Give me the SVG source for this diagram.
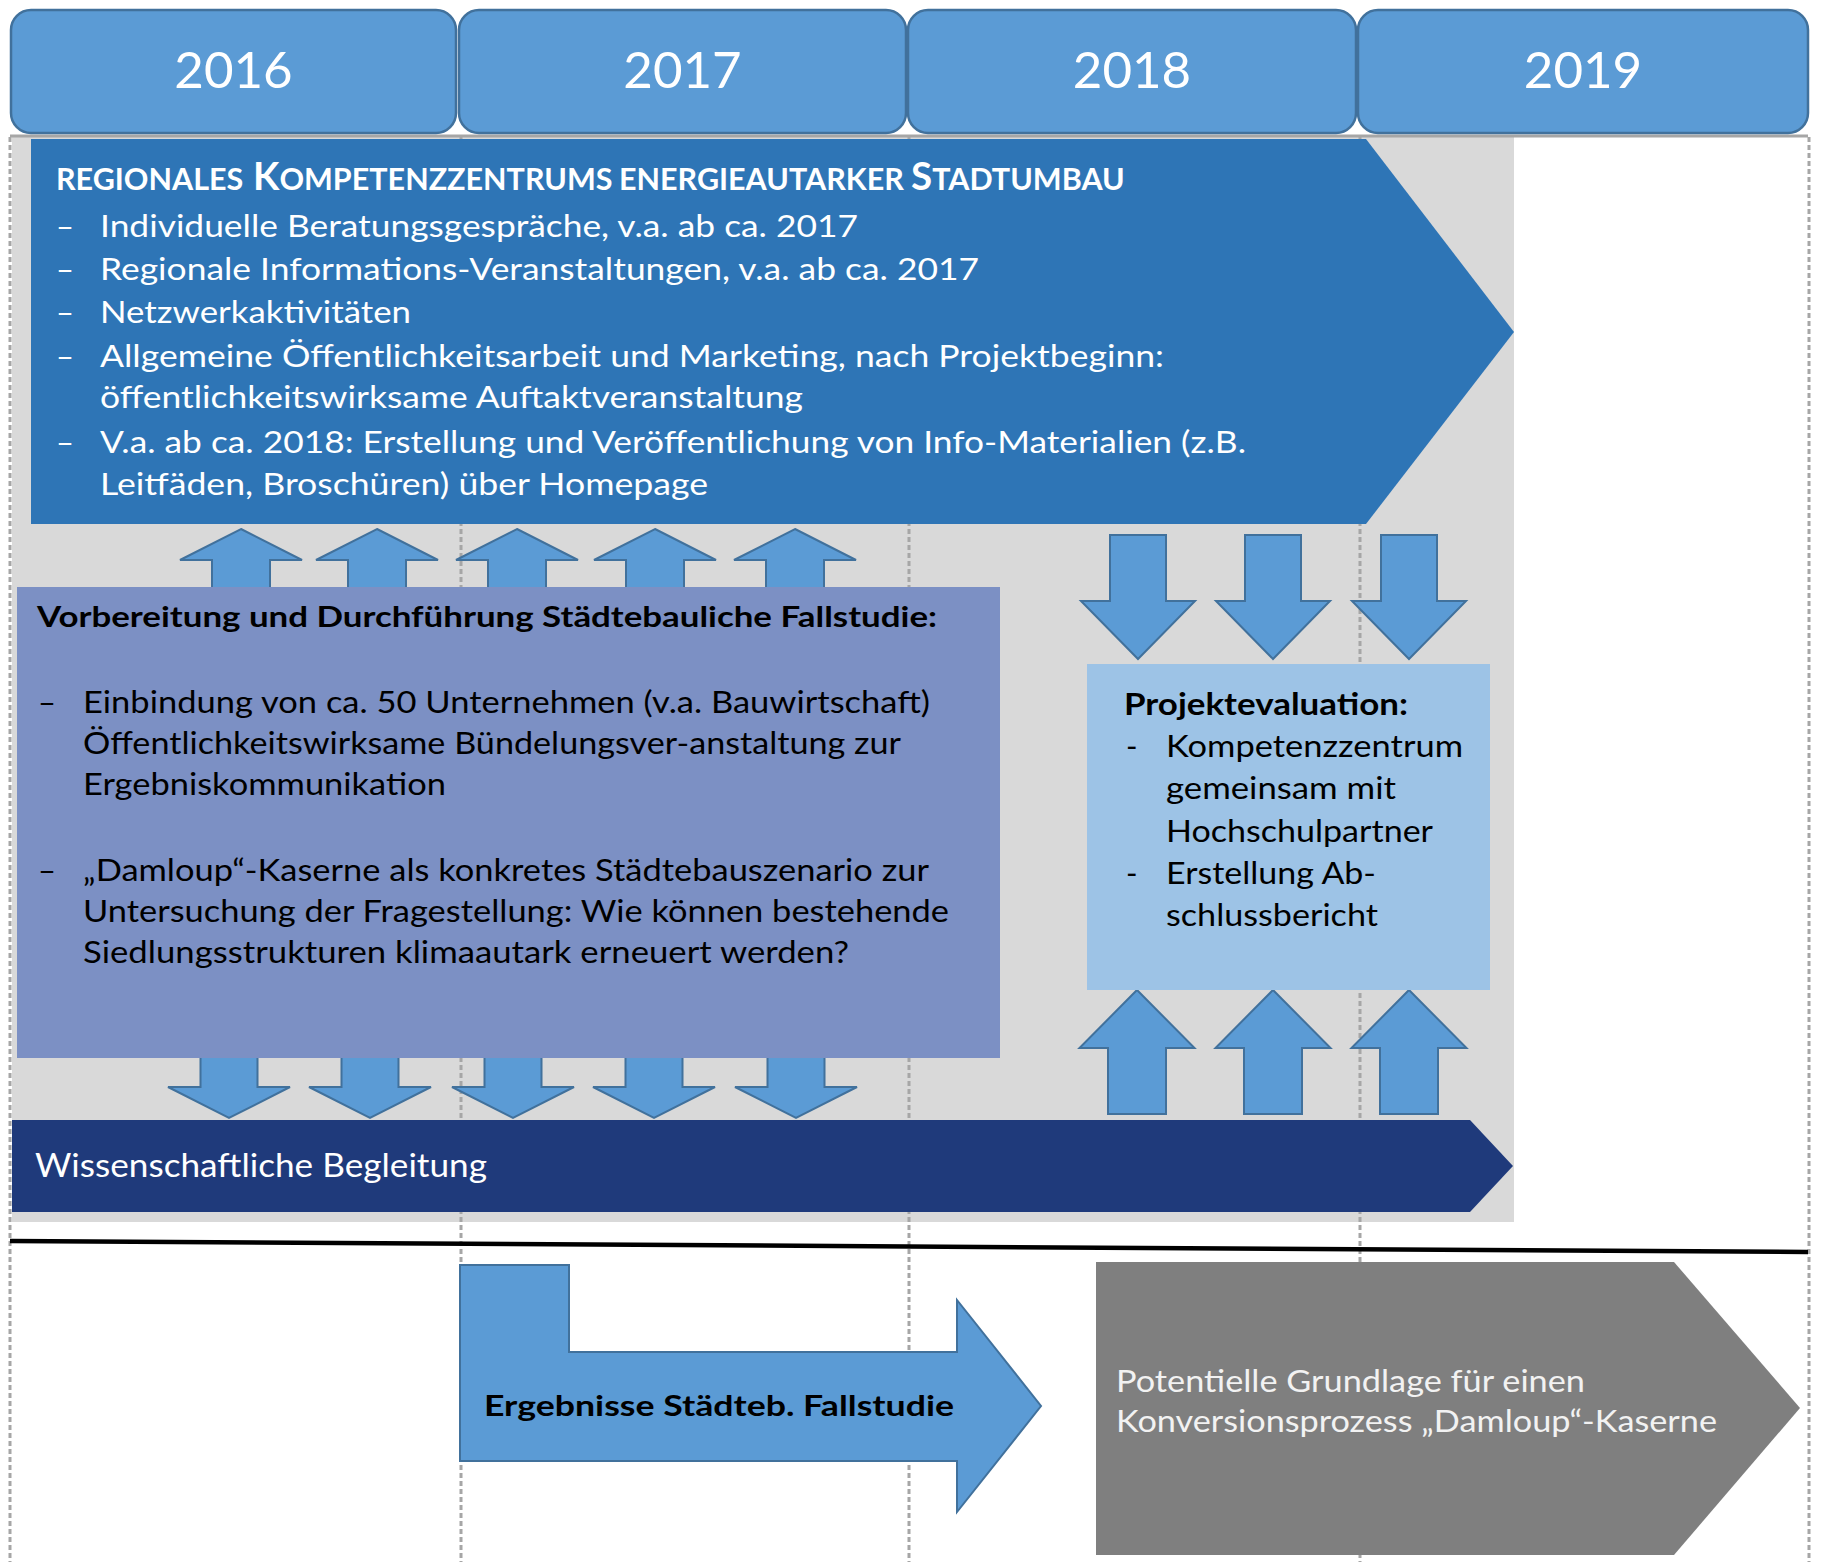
<svg xmlns="http://www.w3.org/2000/svg" width="1821" height="1562" viewBox="0 0 1821 1562">
<style>
  text { font-family: Lato, "Open Sans", "Liberation Sans", sans-serif; }
  .year { fill: #5b9bd5; stroke: #41719c; stroke-width: 2.5; }
  .ytxt { fill: #ffffff; font-size: 51px; text-anchor: middle; }
  .dash { stroke: #a6a6a6; stroke-width: 3; stroke-dasharray: 5 3; fill: none; }
  .arr { fill: #5b9bd5; stroke: #41719c; stroke-width: 2; stroke-linejoin: miter; }
  .w31 { fill: #ffffff; font-size: 31px; }
  .k31 { fill: #000000; font-size: 31px; }
  .kb { fill: #000000; font-weight: bold; }
</style>
<rect x="0" y="0" width="1821" height="1562" fill="#ffffff"/>

<g id="background">
  <rect x="12" y="137" width="1502" height="1085" fill="#d9d9d9"/>
  <line x1="10" y1="136" x2="1808" y2="136" stroke="#a6a6a6" stroke-width="3"/>
  <line class="dash" x1="10" y1="137" x2="10" y2="1562"/>
  <line class="dash" x1="461" y1="137" x2="461" y2="1562"/>
  <line class="dash" x1="909" y1="137" x2="909" y2="1562"/>
  <line class="dash" x1="1360" y1="137" x2="1360" y2="1562"/>
  <line class="dash" x1="1809" y1="137" x2="1809" y2="1562"/>
  <line x1="10" y1="1241" x2="1808" y2="1252" stroke="#000000" stroke-width="4.5"/>
</g>

<g id="year-2016">
  <rect class="year" x="11" y="10" width="445" height="123" rx="20"/>
  <text class="ytxt" x="233.5" y="88">2016</text>
</g>
<g id="year-2017">
  <rect class="year" x="459" y="10" width="447" height="123" rx="20"/>
  <text class="ytxt" x="682.5" y="88">2017</text>
</g>
<g id="year-2018">
  <rect class="year" x="908" y="10" width="448" height="123" rx="20"/>
  <text class="ytxt" x="1132" y="88">2018</text>
</g>
<g id="year-2019">
  <rect class="year" x="1358" y="10" width="450" height="123" rx="20"/>
  <text class="ytxt" x="1583" y="88">2019</text>
</g>

<g id="connectors">
  <polygon class="arr" points="241,529 302,560 270,560 270,590 212,590 212,560 180,560"/>
  <polygon class="arr" points="377,529 438,560 406,560 406,590 348,590 348,560 316,560"/>
  <polygon class="arr" points="517,529 578,560 546,560 546,590 488,590 488,560 456,560"/>
  <polygon class="arr" points="655,529 716,560 684,560 684,590 626,590 626,560 594,560"/>
  <polygon class="arr" points="795,529 856,560 824,560 824,590 766,590 766,560 734,560"/>

  <polygon class="arr" points="200.5,1056 257.5,1056 257.5,1087 290,1087 229,1118 168,1087 200.5,1087"/>
  <polygon class="arr" points="341.5,1056 398.5,1056 398.5,1087 431,1087 370,1118 309,1087 341.5,1087"/>
  <polygon class="arr" points="484.5,1056 541.5,1056 541.5,1087 574,1087 513,1118 452,1087 484.5,1087"/>
  <polygon class="arr" points="625.5,1056 682.5,1056 682.5,1087 715,1087 654,1118 593,1087 625.5,1087"/>
  <polygon class="arr" points="767.5,1056 824.5,1056 824.5,1087 857,1087 796,1118 735,1087 767.5,1087"/>

  <polygon class="arr" points="1110,535 1166,535 1166,601 1195,601 1138,659 1081,601 1110,601"/>
  <polygon class="arr" points="1245,535 1301,535 1301,601 1330,601 1273,659 1216,601 1245,601"/>
  <polygon class="arr" points="1381,535 1437,535 1437,601 1466,601 1409,659 1352,601 1381,601"/>

  <polygon class="arr" points="1137,990 1194.5,1048 1166,1048 1166,1114 1108,1114 1108,1048 1079.5,1048"/>
  <polygon class="arr" points="1273,990 1330.5,1048 1302,1048 1302,1114 1244,1114 1244,1048 1215.5,1048"/>
  <polygon class="arr" points="1409,990 1466.5,1048 1438,1048 1438,1114 1380,1114 1380,1048 1351.5,1048"/>
</g>

<g id="kompetenzzentrum">
  <polygon points="31,139 1366,139 1514,332 1366,524 31,524" fill="#2e75b6"/>
  <text fill="#ffffff" font-weight="bold" y="190">
    <tspan x="56" font-size="30.5">REGIONALES</tspan>
    <tspan x="253" font-size="38.5">K</tspan><tspan font-size="30.5">OMPETENZZENTRUMS</tspan>
    <tspan x="619" font-size="30.5">ENERGIEAUTARKER</tspan>
    <tspan x="911" font-size="38.5">S</tspan><tspan font-size="30.5">TADTUMBAU</tspan>
  </text>
  <text class="w31" x="56" y="237">–</text>
  <text class="w31" x="56" y="280">–</text>
  <text class="w31" x="56" y="323">–</text>
  <text class="w31" x="56" y="367">–</text>
  <text class="w31" x="56" y="453">–</text>
  <text class="w31" x="100" y="237" textLength="758" lengthAdjust="spacingAndGlyphs">Individuelle Beratungsgespräche, v.a. ab ca. 2017</text>
  <text class="w31" x="100" y="280" textLength="879" lengthAdjust="spacingAndGlyphs">Regionale Informations-Veranstaltungen, v.a. ab ca. 2017</text>
  <text class="w31" x="100" y="323" textLength="311" lengthAdjust="spacingAndGlyphs">Netzwerkaktivitäten</text>
  <text class="w31" x="100" y="367" textLength="1064" lengthAdjust="spacingAndGlyphs">Allgemeine Öffentlichkeitsarbeit und Marketing, nach Projektbeginn:</text>
  <text class="w31" x="100" y="408" textLength="703" lengthAdjust="spacingAndGlyphs">öffentlichkeitswirksame Auftaktveranstaltung</text>
  <text class="w31" x="100" y="453" textLength="1146" lengthAdjust="spacingAndGlyphs">V.a. ab ca. 2018: Erstellung und Veröffentlichung von Info-Materialien (z.B.</text>
  <text class="w31" x="100" y="495" textLength="608" lengthAdjust="spacingAndGlyphs">Leitfäden, Broschüren) über Homepage</text>
</g>

<g id="fallstudie">
  <rect x="17" y="587" width="983" height="471" fill="#7c90c4"/>
  <text class="kb" x="37" y="627" font-size="28" textLength="900" lengthAdjust="spacingAndGlyphs">Vorbereitung und Durchführung Städtebauliche Fallstudie:</text>
  <text class="k31" x="38" y="713">–</text>
  <text class="k31" x="38" y="881">–</text>
  <text class="k31" x="83" y="713" textLength="847" lengthAdjust="spacingAndGlyphs">Einbindung von ca. 50 Unternehmen (v.a. Bauwirtschaft)</text>
  <text class="k31" x="83" y="754" textLength="818" lengthAdjust="spacingAndGlyphs">Öffentlichkeitswirksame Bündelungsver-anstaltung zur</text>
  <text class="k31" x="83" y="795" textLength="363" lengthAdjust="spacingAndGlyphs">Ergebniskommunikation</text>
  <text class="k31" x="83" y="881" textLength="846" lengthAdjust="spacingAndGlyphs">„Damloup“-Kaserne als konkretes Städtebauszenario zur</text>
  <text class="k31" x="83" y="922" textLength="866" lengthAdjust="spacingAndGlyphs">Untersuchung der Fragestellung: Wie können bestehende</text>
  <text class="k31" x="83" y="963" textLength="766" lengthAdjust="spacingAndGlyphs">Siedlungsstrukturen klimaautark erneuert werden?</text>
</g>

<g id="projektevaluation">
  <rect x="1087" y="664" width="403" height="326" fill="#9dc3e6"/>
  <text class="kb" x="1124" y="715" font-size="30" textLength="284" lengthAdjust="spacingAndGlyphs">Projektevaluation:</text>
  <text class="k31" x="1126" y="757">-</text>
  <text class="k31" x="1126" y="884">-</text>
  <text class="k31" x="1166" y="757" textLength="297" lengthAdjust="spacingAndGlyphs">Kompetenzzentrum</text>
  <text class="k31" x="1166" y="799" textLength="230" lengthAdjust="spacingAndGlyphs">gemeinsam mit</text>
  <text class="k31" x="1166" y="842" textLength="267" lengthAdjust="spacingAndGlyphs">Hochschulpartner</text>
  <text class="k31" x="1166" y="884" textLength="210" lengthAdjust="spacingAndGlyphs">Erstellung Ab-</text>
  <text class="k31" x="1166" y="926" textLength="212" lengthAdjust="spacingAndGlyphs">schlussbericht</text>
</g>

<g id="begleitung">
  <polygon points="12,1120 1470,1120 1513,1166 1470,1212 12,1212" fill="#1f3a7b"/>
  <text fill="#ffffff" font-size="32" x="35" y="1177" textLength="452" lengthAdjust="spacingAndGlyphs">Wissenschaftliche Begleitung</text>
</g>

<g id="ergebnisse">
  <polygon class="arr" points="460,1265 569,1265 569,1352 957,1352 957,1300 1041,1406 957,1512 957,1461 460,1461"/>
  <text class="kb" x="484" y="1416" font-size="29" textLength="470" lengthAdjust="spacingAndGlyphs">Ergebnisse Städteb. Fallstudie</text>
</g>

<g id="grundlage">
  <polygon points="1096,1262 1674,1262 1800,1408 1674,1555 1096,1555" fill="#7f7f7f"/>
  <text fill="#f2f2f2" font-size="30" x="1116" y="1392" textLength="469" lengthAdjust="spacingAndGlyphs">Potentielle Grundlage für einen</text>
  <text fill="#f2f2f2" font-size="30" x="1116" y="1432" textLength="601" lengthAdjust="spacingAndGlyphs">Konversionsprozess „Damloup“-Kaserne</text>
</g>
</svg>
